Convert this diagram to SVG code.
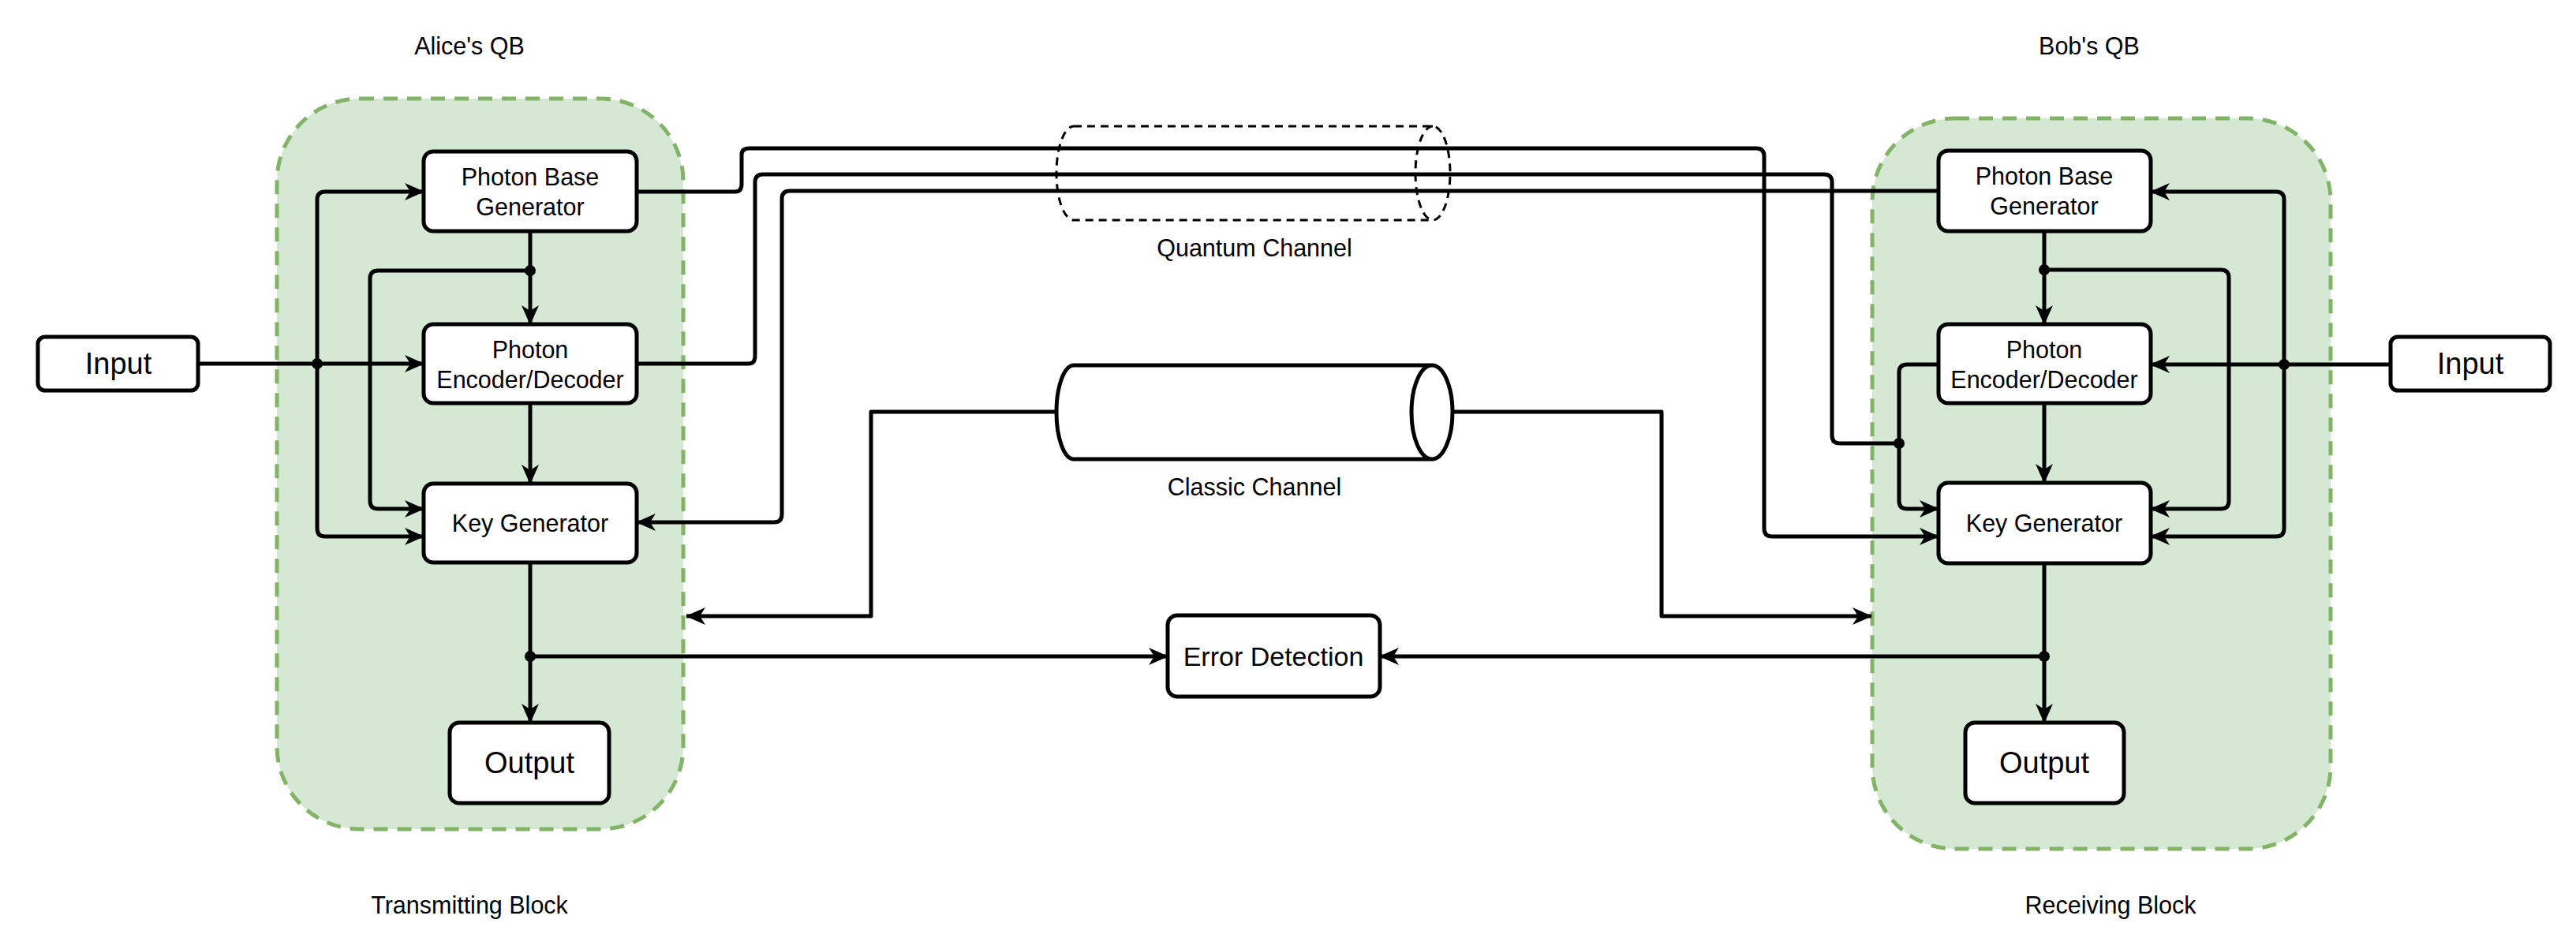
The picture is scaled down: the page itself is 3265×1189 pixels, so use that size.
<svg xmlns="http://www.w3.org/2000/svg" width="3265" height="1189" viewBox="0 0 3265 1189">
<style>
.n{fill:#fff;stroke:#000;stroke-width:5}
.t{font-family:"Liberation Sans",Arial,sans-serif;font-size:30.5px;text-anchor:middle;fill:#000}
.b{font-size:38px}
.c{fill:none;stroke:#000;stroke-width:5;stroke-linejoin:round}
.grp{fill:#d5e8d4;stroke:#82b366;stroke-width:5;stroke-dasharray:18 12}
</style>
<defs>
<marker id="m" viewBox="0 0 26 26" refX="24" refY="13" markerWidth="26" markerHeight="26" markerUnits="userSpaceOnUse" orient="auto">
<path d="M0,2 L25,13 L0,24 L7,13 Z" fill="#000"/>
</marker>
</defs>
<rect class="grp" x="351" y="125" width="515" height="926" rx="105"/>
<rect class="grp" x="2373" y="150" width="581" height="926" rx="105"/>
<text class="t" x="595" y="69">Alice's QB</text>
<text class="t" x="2648" y="69">Bob's QB</text>
<text class="t" x="595" y="1158">Transmitting Block</text>
<text class="t" x="2675" y="1158">Receiving Block</text>
<text class="t" x="1590" y="325">Quantum Channel</text>
<text class="t" x="1590" y="628">Classic Channel</text>
<g id="quantum">
<path d="M1361,160 H1816 A22,59.5 0 0 1 1816,279 H1361 A22,59.5 0 0 1 1361,160 Z M1816,160 A22,59.5 0 0 0 1816,279" fill="none" stroke="#000" stroke-width="3" stroke-dasharray="10 7"/>
</g>
<g id="connectors">
<path class="c" d="M807,243 H932 Q940,243 940,233 V196 Q940,188 950,188 H2226 Q2236,188 2236,198 V670 Q2236,680 2246,680 H2457" marker-end="url(#m)"/>
<path class="c" d="M807,461 H949 Q957,461 957,451 V231 Q957,221 967,221 H2312 Q2322,221 2322,231 V552 Q2322,562 2332,562 H2407"/>
<path class="c" d="M2457,242 H1001 Q991,242 991,252 V652 Q991,662 981,662 H807" marker-end="url(#m)"/>
<g id="classic">
<path d="M1361,463 H1815 A26,59.5 0 0 1 1815,582 H1361 A22,59.5 0 0 1 1361,463 Z M1815,463 A26,59.5 0 0 0 1815,582" fill="#fff" stroke="#000" stroke-width="5"/>
</g>
<path class="c" d="M1339,522 H1104 V781 H870" marker-end="url(#m)"/>
<path class="c" d="M1841,522 H2106 V781 H2372" marker-end="url(#m)"/>
<path class="c" d="M251,461 H537" marker-end="url(#m)"/>
<path class="c" d="M402,461 V253 Q402,243 412,243 H537" marker-end="url(#m)"/>
<path class="c" d="M402,461 V670 Q402,680 412,680 H537" marker-end="url(#m)"/>
<path class="c" d="M672,293 V411" marker-end="url(#m)"/>
<path class="c" d="M672,343 H479 Q469,343 469,353 V635 Q469,645 479,645 H537" marker-end="url(#m)"/>
<path class="c" d="M672,511 V613" marker-end="url(#m)"/>
<path class="c" d="M672,713 V916" marker-end="url(#m)"/>
<path class="c" d="M672,832 H1480" marker-end="url(#m)"/>
<path class="c" d="M2591,832 H1749" marker-end="url(#m)"/>
<path class="c" d="M2591,714 V916" marker-end="url(#m)"/>
<path class="c" d="M2591,293 V411" marker-end="url(#m)"/>
<path class="c" d="M2591,342 H2815 Q2825,342 2825,352 V635 Q2825,645 2815,645 H2726" marker-end="url(#m)"/>
<path class="c" d="M2591,511 V612" marker-end="url(#m)"/>
<path class="c" d="M3030,462 H2726" marker-end="url(#m)"/>
<path class="c" d="M2895,462 V253 Q2895,243 2885,243 H2726" marker-end="url(#m)"/>
<path class="c" d="M2895,462 V670 Q2895,680 2885,680 H2726" marker-end="url(#m)"/>
<path class="c" d="M2457,462 H2417 Q2407,462 2407,472 V635 Q2407,645 2417,645 H2457" marker-end="url(#m)"/>
<circle cx="402" cy="461" r="7"/><circle cx="672" cy="343" r="7"/><circle cx="672" cy="832" r="7"/>
<circle cx="2895" cy="462" r="7"/><circle cx="2591" cy="342" r="7"/><circle cx="2591" cy="832" r="7"/><circle cx="2407" cy="562" r="7"/>
</g>
<g id="alice-input"><rect class="n" x="48" y="427" width="203" height="68" rx="9"/><text class="t b" x="150" y="474">Input</text></g>
<g id="alice-pbg"><rect class="n" x="537" y="192" width="270" height="101" rx="12"/><text class="t" x="672" y="235">Photon Base</text><text class="t" x="672" y="273">Generator</text></g>
<g id="alice-ped"><rect class="n" x="537" y="411" width="270" height="100" rx="12"/><text class="t" x="672" y="454">Photon</text><text class="t" x="672" y="492">Encoder/Decoder</text></g>
<g id="alice-kg"><rect class="n" x="537" y="613" width="270" height="100" rx="12"/><text class="t" x="672" y="674">Key Generator</text></g>
<g id="alice-out"><rect class="n" x="570" y="916" width="202" height="102" rx="12"/><text class="t b" x="671" y="980">Output</text></g>
<g id="error"><rect class="n" x="1480" y="780" width="269" height="103" rx="12"/><text class="t" x="1614" y="844" style="font-size:34px">Error Detection</text></g>
<g id="bob-pbg"><rect class="n" x="2457" y="191" width="269" height="102" rx="12"/><text class="t" x="2591" y="234">Photon Base</text><text class="t" x="2591" y="272">Generator</text></g>
<g id="bob-ped"><rect class="n" x="2457" y="411" width="269" height="100" rx="12"/><text class="t" x="2591" y="454">Photon</text><text class="t" x="2591" y="492">Encoder/Decoder</text></g>
<g id="bob-kg"><rect class="n" x="2457" y="612" width="269" height="102" rx="12"/><text class="t" x="2591" y="674">Key Generator</text></g>
<g id="bob-out"><rect class="n" x="2491" y="916" width="201" height="102" rx="12"/><text class="t b" x="2591" y="980">Output</text></g>
<g id="bob-input"><rect class="n" x="3030" y="427" width="202" height="68" rx="9"/><text class="t b" x="3131" y="474">Input</text></g>
</svg>
